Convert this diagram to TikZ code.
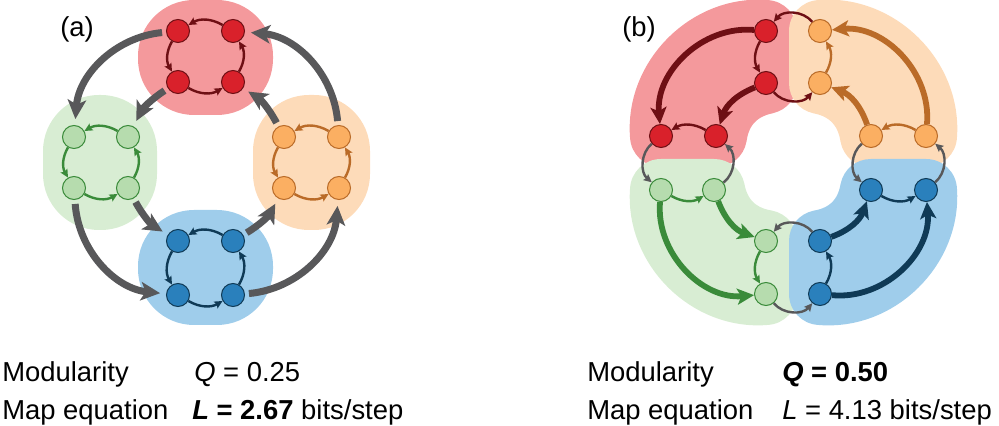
\documentclass[tikz,border=0pt]{standalone}
\usepackage{fontspec}
\setmainfont{Liberation Sans}
\usetikzlibrary{arrows.meta, backgrounds}

\definecolor{redblob}{HTML}{F4999C}
\definecolor{rednode}{HTML}{D9212B}
\definecolor{redline}{HTML}{6E0F14}
\definecolor{greenblob}{HTML}{D8EDD3}
\definecolor{greennode}{HTML}{B6DCAE}
\definecolor{greenline}{HTML}{3A8B3A}
\definecolor{orangeblob}{HTML}{FDDBB9}
\definecolor{orangenode}{HTML}{FBAF62}
\definecolor{orangeline}{HTML}{BA6B28}
\definecolor{blueblob}{HTML}{9FCDEB}
\definecolor{bluenode}{HTML}{2A80BC}
\definecolor{blueline}{HTML}{0F3A56}
\definecolor{flowgray}{HTML}{58585A}

\begin{document}
\begin{tikzpicture}[x=0.25mm, y=0.25mm,
    vtx/.style={circle, line width=0.25mm, minimum size=5.75mm, inner sep=0pt},
    redv/.style={vtx, fill=rednode, draw=redline},
    greenv/.style={vtx, fill=greennode, draw=greenline},
    orangev/.style={vtx, fill=orangenode, draw=orangeline},
    bluev/.style={vtx, fill=bluenode, draw=blueline},
    blob/.style={line width=15.5mm, line join=round},
    flow/.style={-{Stealth[length=2mm, width=1.9mm, inset=0.3mm]}, line width=0.6mm, bend right=30},
    bigflow/.style={-{Stealth[length=4.8mm, width=4.6mm, inset=1.2mm]}, line width=1.75mm, flowgray, shorten <=1mm, shorten >=1.5mm},
    fatflow/.style={-{Stealth[length=4.2mm, width=4mm, inset=1mm]}, line width=1.45mm},
    linkflow/.style={-{Stealth[length=2mm, width=1.9mm, inset=0.3mm]}, line width=0.6mm, bend right=50},
    lbl/.style={anchor=base west, inner sep=0pt, font=\fontsize{19.5}{23}\selectfont}]
    \useasboundingbox (0,0) rectangle (999,-426);

    % (a) Modules
    \fill[redblob, rounded corners=14mm] (138,0) rectangle (273,-115);
    \fill[greenblob, rounded corners=14mm] (43,-95) rectangle (157,-230);
    \fill[orangeblob, rounded corners=14mm] (253,-95) rectangle (370,-230);
    \fill[blueblob, rounded corners=14mm] (138,-210) rectangle (273,-325);

    % (a) Noeuds
    \node[redv] (ar1) at (178,-31) {};
    \node[redv] (ar2) at (233,-31) {};
    \node[redv] (ar3) at (178,-82) {};
    \node[redv] (ar4) at (233,-82) {};
    \node[greenv] (ag1) at (74,-137) {};
    \node[greenv] (ag2) at (128,-137) {};
    \node[greenv] (ag3) at (74,-188) {};
    \node[greenv] (ag4) at (128,-188) {};
    \node[orangev] (ao1) at (284,-137) {};
    \node[orangev] (ao2) at (339,-137) {};
    \node[orangev] (ao3) at (284,-188) {};
    \node[orangev] (ao4) at (339,-188) {};
    \node[bluev] (ab1) at (178,-241) {};
    \node[bluev] (ab2) at (233,-241) {};
    \node[bluev] (ab3) at (178,-295) {};
    \node[bluev] (ab4) at (233,-295) {};

    % (a) Liens internes
    \draw[flow, redline] (ar2) to (ar1);
    \draw[flow, redline] (ar1) to (ar3);
    \draw[flow, redline] (ar3) to (ar4);
    \draw[flow, redline] (ar4) to (ar2);
    \draw[flow, greenline] (ag2) to (ag1);
    \draw[flow, greenline] (ag1) to (ag3);
    \draw[flow, greenline] (ag3) to (ag4);
    \draw[flow, greenline] (ag4) to (ag2);
    \draw[flow, orangeline] (ao2) to (ao1);
    \draw[flow, orangeline] (ao1) to (ao3);
    \draw[flow, orangeline] (ao3) to (ao4);
    \draw[flow, orangeline] (ao4) to (ao2);
    \draw[flow, blueline] (ab2) to (ab1);
    \draw[flow, blueline] (ab1) to (ab3);
    \draw[flow, blueline] (ab3) to (ab4);
    \draw[flow, blueline] (ab4) to (ab2);

    % (a) Liens entre modules
    \draw[bigflow, bend right=40] (ar1) to (ag1);
    \draw[bigflow, bend right=15] (ar3) to (ag2);
    \draw[bigflow, bend right=40] (ag3) to (ab3);
    \draw[bigflow, bend right=15] (ag4) to (ab1);
    \draw[bigflow, bend right=15] (ab2) to (ao3);
    \draw[bigflow, bend right=40] (ab4) to (ao4);
    \draw[bigflow, bend right=15] (ao1) to (ar4);
    \draw[bigflow, bend right=40] (ao2) to (ar2);

    % (b) Noeuds
    \node[redv] (br1) at (766,-31) {};
    \node[redv] (br2) at (766,-83) {};
    \node[redv] (br3) at (716,-136) {};
    \node[redv] (br4) at (661,-136) {};
    \node[orangev] (bo1) at (820,-31) {};
    \node[orangev] (bo2) at (820,-83) {};
    \node[orangev] (bo3) at (871,-136) {};
    \node[orangev] (bo4) at (926,-136) {};
    \node[greenv] (bg1) at (661,-190) {};
    \node[greenv] (bg2) at (714,-190) {};
    \node[greenv] (bg3) at (766,-241) {};
    \node[greenv] (bg4) at (766,-294) {};
    \node[bluev] (bb1) at (926,-190) {};
    \node[bluev] (bb2) at (871,-190) {};
    \node[bluev] (bb3) at (820,-241) {};
    \node[bluev] (bb4) at (820,-294) {};

    % (b) Modules
    \begin{scope}[on background layer]
        \filldraw[blob, redblob] (br1.center) to[bend right=50] (br4.center) -- (br3.center) to[bend left=35] (br2.center) -- cycle;
        \filldraw[blob, greenblob] (bg1.center) to[bend right=50] (bg4.center) -- (bg3.center) to[bend left=35] (bg2.center) -- cycle;
        \filldraw[blob, orangeblob] (bo4.center) to[bend right=50] (bo1.center) -- (bo2.center) to[bend left=35] (bo3.center) -- cycle;
        \filldraw[blob, blueblob] (bb4.center) to[bend right=50] (bb1.center) -- (bb2.center) to[bend left=35] (bb3.center) -- cycle;
    \end{scope}

    % (b) Liens internes
    \draw[flow, redline] (br1) to (br2);
    \draw[flow, redline] (br3) to (br4);
    \draw[fatflow, redline, bend right=50] (br1) to (br4);
    \draw[fatflow, redline, bend right=25] (br2) to (br3);
    \draw[flow, orangeline] (bo4) to (bo3);
    \draw[flow, orangeline] (bo2) to (bo1);
    \draw[fatflow, orangeline, bend right=50] (bo4) to (bo1);
    \draw[fatflow, orangeline, bend right=25] (bo3) to (bo2);
    \draw[flow, greenline] (bg1) to (bg2);
    \draw[flow, greenline] (bg3) to (bg4);
    \draw[fatflow, greenline, bend right=50] (bg1) to (bg4);
    \draw[fatflow, greenline, bend right=25] (bg2) to (bg3);
    \draw[flow, blueline] (bb4) to (bb3);
    \draw[flow, blueline] (bb2) to (bb1);
    \draw[fatflow, blueline, bend right=50] (bb4) to (bb1);
    \draw[fatflow, blueline, bend right=25] (bb3) to (bb2);

    % (b) Liens entre modules
    \draw[linkflow, redline] (bo1) to (br1);
    \draw[linkflow, redline] (br2) to (bo2);
    \draw[linkflow, flowgray] (br4) to (bg1);
    \draw[linkflow, flowgray] (bg2) to (br3);
    \draw[linkflow, flowgray] (bo3) to (bb2);
    \draw[linkflow, flowgray] (bb1) to (bo4);
    \draw[linkflow, flowgray] (bb3) to (bg3);
    \draw[linkflow, flowgray] (bg4) to (bb4);

    % Etiquettes
    \node[lbl] (alab) at (60,-37) {(a)};
    \node[lbl] (blab) at (622,-37) {(b)};
    \node[lbl] (amod) at (2,-382) {Modularity};
    \node[lbl] (aq) at (194,-382) {\textit{Q} = 0.25};
    \node[lbl] (amap) at (2,-419) {Map equation};
    \node[lbl] (al) at (192,-419) {\textbf{\textit{L} = 2.67} bits/step};
    \node[lbl] (bmod) at (587,-382) {Modularity};
    \node[lbl] (bq) at (782,-382) {\textbf{\textit{Q} = 0.50}};
    \node[lbl] (bmap) at (587,-419) {Map equation};
    \node[lbl] (bl) at (782,-419) {\textit{L} = 4.13 bits/step};
\end{tikzpicture}
\end{document}
